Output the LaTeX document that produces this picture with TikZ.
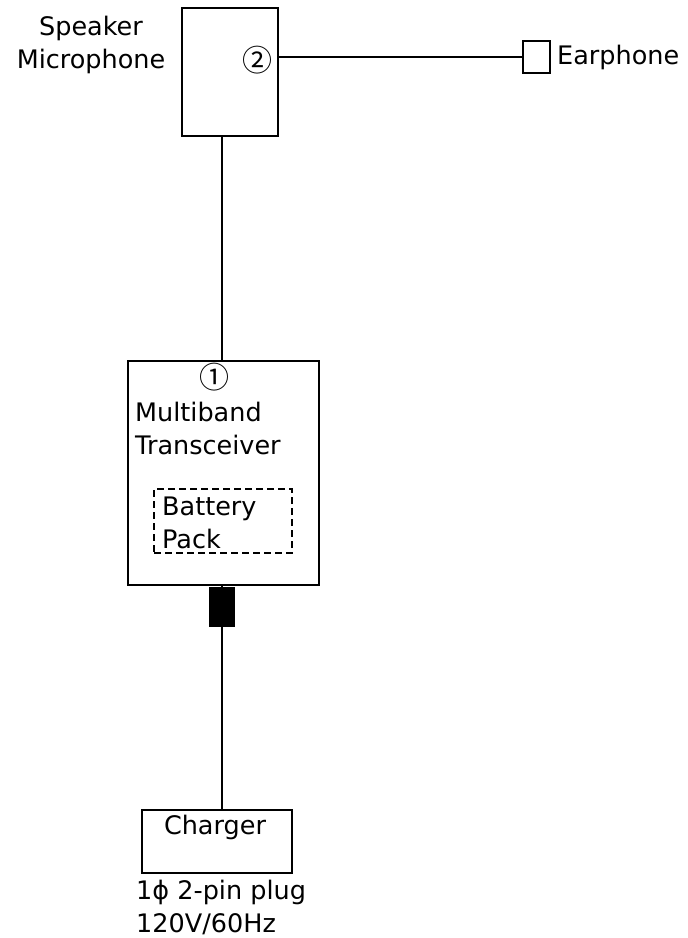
\documentclass[tikz,border=0pt]{standalone}
\usepackage{fontspec}
\setmainfont{DejaVu Sans}
\newfontfamily\circfont{Noto Sans CJK JP}
\usetikzlibrary{positioning}
\tikzset{
  unit/.style={draw, line width=2.4pt, inner sep=0pt},
  label text/.style={font=\fontsize{25.5}{33}\selectfont, inner sep=0pt, align=left},
  jack text/.style={font=\circfont\fontsize{30}{32}\selectfont, inner sep=0pt},
  wire/.style={line width=2.4pt}
}
\begin{document}
\begin{tikzpicture}[x=1pt, y=-1pt]
      \useasboundingbox (0,0) rectangle (688,938);
      % units
      \node[unit, minimum width=96pt, minimum height=128pt] (mic) at (230,72) {};
      \node[unit, minimum width=27pt, minimum height=32pt] (ear) at (536.5,57) {};
      \node[unit, minimum width=191pt, minimum height=224pt] (xcvr) at (223.5,473) {};
      \node[unit, line width=2pt, dash pattern=on 7pt off 4pt, minimum width=138pt, minimum height=64pt] (batt) at (223,521) {};
      \node[unit, fill=black, minimum width=23pt, minimum height=38pt] (plug) at (222,607) {};
      \node[unit, minimum width=150pt, minimum height=63pt] (chg) at (217,841.5) {};
      % texts
      \node[label text, align=center] (micname) at (91,45) {Speaker\\Microphone};
      \node[jack text] (jack2) at (257,60) {②};
      \node[label text, anchor=west] (earname) at (557,57) {Earphone};
      \node[jack text] (jack1) at (214,377) {①};
      \node[label text, anchor=west] (xcvrname) at (135,428) {Multiband\\Transceiver};
      \node[label text, anchor=west] (battname) at (162,523) {Battery\\Pack};
      \node[label text] (chgname) at (215,827) {Charger};
      \node[label text, anchor=west] (mains) at (136,907) {1ϕ 2-pin plug\\120V/60Hz};
      % cables
      \draw[wire] (mic.east |- ear.west) -- (ear.west);
      \draw[wire] (mic.south -| plug) -- (xcvr.north -| plug);
      \draw[wire] (xcvr.south -| plug) -- (plug.north);
      \draw[wire] (plug.south) -- (chg.north -| plug);
    \end{tikzpicture}
\end{document}
